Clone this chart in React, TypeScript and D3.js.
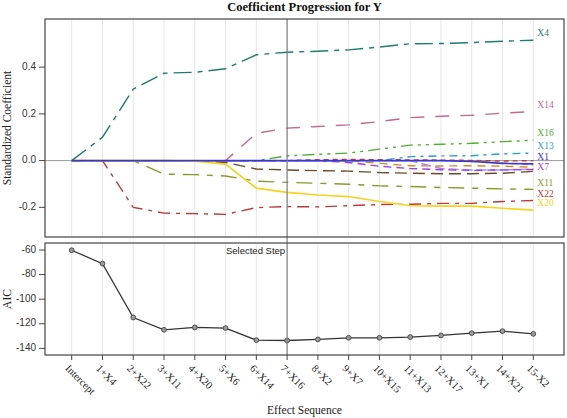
import React from "react";
import * as d3 from "d3";

// ---------- data ----------
const steps = [
  "Intercept", "1+X4", "2+X22", "3+X11", "4+X20", "5+X6", "6+X14", "7+X16",
  "8+X2", "9+X7", "10+X15", "11+X13", "12+X17", "13+X1", "14+X21", "15-X2",
];
const aicValues = [
  -60.2, -71.1, -114.9, -124.9, -123.0, -123.5, -133.3, -133.6,
  -132.7, -131.4, -131.4, -130.8, -129.5, -127.6, -126.0, -128.2,
];
const coefX4 = [0, 0.1, 0.306, 0.374, 0.378, 0.393, 0.453, 0.464, 0.468, 0.474, 0.486, 0.5, 0.501, 0.505, 0.511, 0.515];
const coefX22 = [0, 0, -0.2, -0.225, -0.227, -0.23, -0.201, -0.197, -0.198, -0.193, -0.188, -0.187, -0.183, -0.183, -0.175, -0.171];
const coefX11 = [0, 0, 0, -0.058, -0.06, -0.066, -0.088, -0.093, -0.097, -0.101, -0.108, -0.111, -0.115, -0.118, -0.121, -0.123];
const coefX20 = [0, 0, 0, 0, -0.003, -0.015, -0.118, -0.136, -0.147, -0.154, -0.175, -0.193, -0.195, -0.195, -0.204, -0.212];
const coefX6 = [0, 0, 0, 0, 0, -0.008, -0.036, -0.04, -0.043, -0.045, -0.051, -0.054, -0.056, -0.056, -0.054, -0.046];
const coefX14 = [0, 0, 0, 0, 0, 0, 0.117, 0.139, 0.146, 0.153, 0.167, 0.184, 0.19, 0.194, 0.203, 0.21];
const coefX16 = [0, 0, 0, 0, 0, 0, 0, 0.02, 0.027, 0.032, 0.049, 0.066, 0.07, 0.074, 0.081, 0.087];
const coefX2 = [0, 0, 0, 0, 0, 0, 0, 0, 0.004, 0.005, 0.004, 0.003, 0.002, 0.001, -0.002, 0];
const coefX7 = [0, 0, 0, 0, 0, 0, 0, 0, 0, -0.008, -0.024, -0.034, -0.039, -0.042, -0.04, -0.038];
const coefX15 = [0, 0, 0, 0, 0, 0, 0, 0, 0, 0, -0.012, -0.022, -0.023, -0.022, -0.024, -0.028];
const coefX13 = [0, 0, 0, 0, 0, 0, 0, 0, 0, 0, 0, 0.017, 0.02, 0.021, 0.029, 0.032];
const coefX17 = [0, 0, 0, 0, 0, 0, 0, 0, 0, 0, 0, 0, -0.034, -0.04, -0.04, -0.036];
const coefX1 = [0, 0, 0, 0, 0, 0, 0, 0, 0, 0, 0, 0, 0, -0.004, -0.012, -0.014];
const coefX21 = [0, 0, 0, 0, 0, 0, 0, 0, 0, 0, 0, 0, 0, 0, -0.01, -0.018];

const effectNames = ["X21", "X2", "X15", "X17", "X6", "X7", "X13", "X16", "X14", "X11", "X22", "X20", "X4", "X1"];
const effectCoefs: Record<string, number[]> = {
  X4: coefX4, X22: coefX22, X11: coefX11, X20: coefX20, X6: coefX6, X14: coefX14, X16: coefX16,
  X2: coefX2, X7: coefX7, X15: coefX15, X13: coefX13, X17: coefX17, X1: coefX1, X21: coefX21,
};
const labeledEffects = ["X4", "X14", "X16", "X13", "X1", "X7", "X11", "X22", "X20"];
const topTicks = [-0.2, 0, 0.2, 0.4];
const bottomTicks = [-140, -120, -100, -80, -60];
const selectedStep = "7+X16";

// ---------- styles ----------
const lineStyle: Record<string, { color: string; dash: string }> = {
  X4: { color: "#1f7a72", dash: "18,6,5,6" },
  X22: { color: "#b83a3a", dash: "12,6,4,6" },
  X11: { color: "#8a9a2a", dash: "16,8,6,8" },
  X20: { color: "#f7d21e", dash: "" },
  X6: { color: "#6b4a2a", dash: "12,6" },
  X14: { color: "#c0688e", dash: "14,11" },
  X16: { color: "#4fae33", dash: "12,5,3,5,3,5" },
  X2: { color: "#c03c3c", dash: "5,4" },
  X7: { color: "#a040d8", dash: "8,5" },
  X15: { color: "#d88a2a", dash: "8,6" },
  X13: { color: "#2a9ee0", dash: "8,5,3,5" },
  X17: { color: "#b08ae8", dash: "10,4" },
  X1: { color: "#3a3ad0", dash: "" },
  X21: { color: "#9a8a60", dash: "6,4" },
};

const W = 567;
const H = 418;
const left = 45;
const right = 564;
const topY0 = 19;
const topY1 = 237;
const botY0 = 243;
const botY1 = 355;

const serif = "'Liberation Serif', 'DejaVu Serif', serif";
const sans = "'Liberation Sans', Arial, sans-serif";

export default function App() {
  const x = d3.scalePoint<string>().domain(steps).range([71.7, 533.3]);
  const yTop = d3.scaleLinear().domain([-0.327, 0.606]).range([topY1, topY0]);
  const yBot = d3.scaleLinear().domain([-145.4, -54.3]).range([botY1, botY0]);

  const coefLine = d3
    .line<number>()
    .x((_, i) => x(steps[i]) as number)
    .y((d) => yTop(d));
  const aicLine = d3
    .line<number>()
    .x((_, i) => x(steps[i]) as number)
    .y((d) => yBot(d));

  // label placement with simple collision avoidance
  const lastIdx = steps.length - 1;
  const labels = labeledEffects
    .map((n) => ({ name: n, y: yTop(effectCoefs[n][lastIdx]) - 6 }))
    .sort((a, b) => a.y - b.y);
  const gap = 9.6;
  for (let i = 1; i < labels.length; i++) {
    if (labels[i].y - labels[i - 1].y < gap) labels[i].y = labels[i - 1].y + gap;
  }
  const labelX = (x(steps[lastIdx]) as number) + 4;
  const selX = x(selectedStep) as number;

  return (
    <div style={{ position: "absolute", left: 0, top: 0, width: W, height: H, background: "#fff" }}>
      <svg width={W} height={H} viewBox={`0 0 ${W} ${H}`} style={{ display: "block" }}>
        <rect x={0} y={0} width={W} height={H} fill="#fff" />
        {/* title */}
        <text x={(left + right) / 2} y={11} textAnchor="middle" fontFamily={serif} fontWeight="bold" fontSize={12.5} fill="#111">
          Coefficient Progression for Y
        </text>

        {/* grid lines */}
        {steps.map((s) => (
          <g key={"g" + s}>
            <line x1={x(s)} x2={x(s)} y1={topY0} y2={topY1} stroke="#e6e6e6" strokeWidth={1} />
            <line x1={x(s)} x2={x(s)} y1={botY0} y2={botY1} stroke="#e6e6e6" strokeWidth={1} />
          </g>
        ))}

        {/* zero reference */}
        <line x1={left} x2={right} y1={yTop(0)} y2={yTop(0)} stroke="#9a9a9a" strokeWidth={1} />

        {/* coefficient lines */}
        {effectNames.map((n) => (
          <path
            key={n}
            d={coefLine(effectCoefs[n]) || ""}
            fill="none"
            stroke={lineStyle[n].color}
            strokeWidth={n === "X1" ? 1.6 : n === "X20" ? 1.6 : 1.4}
            strokeDasharray={lineStyle[n].dash || undefined}
          />
        ))}

        {/* effect labels */}
        {labels.map((l) => (
          <text
            key={"l" + l.name}
            x={labelX}
            y={l.y}
            dominantBaseline="middle"
            fontFamily={serif}
            fontSize={9.5}
            fill={lineStyle[l.name].color}
          >
            {l.name}
          </text>
        ))}

        {/* AIC line */}
        <path d={aicLine(aicValues) || ""} fill="none" stroke="#333" strokeWidth={1.3} />
        {aicValues.map((v, i) => (
          <circle key={"c" + i} cx={x(steps[i])} cy={yBot(v)} r={2.4} fill="#9a9a9a" stroke="#444" strokeWidth={0.9} />
        ))}

        {/* selected step */}
        <line x1={selX} x2={selX} y1={topY0} y2={botY1} stroke="#808080" strokeWidth={1.2} />
        <text x={selX - 2} y={254} textAnchor="end" fontFamily={sans} fontSize={9.5} fill="#222">
          Selected Step
        </text>

        {/* frames */}
        <rect x={left} y={topY0} width={right - left} height={topY1 - topY0} fill="none" stroke="#444" strokeWidth={1.2} />
        <rect x={left} y={botY0} width={right - left} height={botY1 - botY0} fill="none" stroke="#444" strokeWidth={1.2} />

        {/* top y axis */}
        {topTicks.map((t) => (
          <g key={"tt" + t}>
            <line x1={left - 6} x2={left} y1={yTop(t)} y2={yTop(t)} stroke="#444" />
            <text x={left - 9} y={yTop(t)} dominantBaseline="middle" textAnchor="end" fontFamily={sans} fontSize={10} fill="#333">
              {t.toFixed(1)}
            </text>
          </g>
        ))}
        <text
          transform={`translate(11,${(topY0 + topY1) / 2}) rotate(-90)`}
          textAnchor="middle"
          fontFamily={serif}
          fontSize={11.5}
          fill="#222"
        >
          Standardized Coefficient
        </text>

        {/* bottom y axis */}
        {bottomTicks.map((t) => (
          <g key={"bt" + t}>
            <line x1={left - 6} x2={left} y1={yBot(t)} y2={yBot(t)} stroke="#444" />
            <text x={left - 9} y={yBot(t)} dominantBaseline="middle" textAnchor="end" fontFamily={sans} fontSize={10} fill="#333">
              {String(t)}
            </text>
          </g>
        ))}
        <text
          transform={`translate(11,${(botY0 + botY1) / 2}) rotate(-90)`}
          textAnchor="middle"
          fontFamily={serif}
          fontSize={11.5}
          fill="#222"
        >
          AIC
        </text>

        {/* x axis */}
        {steps.map((s) => (
          <g key={"xt" + s}>
            <line x1={x(s)} x2={x(s)} y1={botY1} y2={botY1 + 5} stroke="#444" />
            <text
              transform={`translate(${(x(s) as number) - 7},${369}) rotate(45)`}
              fontFamily={serif}
              fontSize={10.5}
              fill="#222"
            >
              {s}
            </text>
          </g>
        ))}
        <text x={(left + right) / 2} y={414} textAnchor="middle" fontFamily={serif} fontSize={11.5} fill="#222">
          Effect Sequence
        </text>
      </svg>
    </div>
  );
}
